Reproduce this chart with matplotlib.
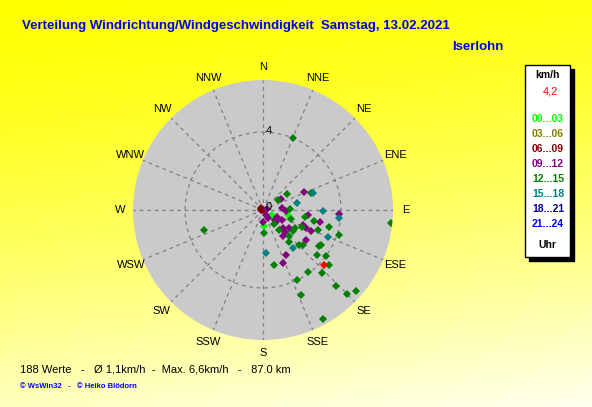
import numpy as np
import matplotlib.pyplot as plt
from matplotlib.patches import Rectangle

plt.rcParams['font.family'] = ['Liberation Sans', 'DejaVu Sans']

richtungen = ["N", "NNE", "NE", "ENE", "E", "ESE", "SE", "SSE",
              "S", "SSW", "SW", "WSW", "W", "WNW", "NW", "NNW"]

# Windrichtung (Grad) und Geschwindigkeit (km/h) je Zeitraum
dir_00_03 = [118, 128, 102, 175]
spd_00_03 = [0.5, 0.6, 1.3, 0.8]

dir_06_09 = [290, 270, 315, 0]
spd_06_09 = [0.1, 0.12, 0.15, 0.0]

dir_09_12 = [67, 58, 85, 92, 96, 93, 102, 117, 117, 147, 132, 132, 152, 181,
             125, 132, 135, 111, 113, 114, 125, 153, 159, 143, 75]
spd_09_12 = [2.3, 1.1, 1.0, 1.2, 2.3, 3.9, 3.0, 0.8, 1.1, 0.5, 0.8, 0.9, 0.3, 0.6,
             1.6, 1.4, 1.6, 2.2, 2.4, 2.7, 2.7, 2.6, 2.9, 1.7, 0.2]

dir_12_15 = [23, 56, 56, 88, 107, 99, 102, 104, 108, 110, 141, 177, 141, 125,
             119, 113, 141, 131, 134, 123, 121, 130, 126, 130, 137, 144, 169,
             154, 136, 135, 131, 156, 151, 96, 251, 70, 135]
spd_12_15 = [4.0, 1.5, 0.9, 1.4, 1.5, 2.2, 2.7, 3.5, 4.1, 3.0, 1.3, 1.2, 0.9, 1.9,
             1.9, 2.2, 2.1, 2.7, 2.6, 3.4, 3.5, 3.6, 4.0, 4.4, 4.4, 3.9, 2.9,
             4.0, 5.4, 6.1, 6.3, 4.8, 6.4, 6.6, 3.2, 2.6, 1.9]

dir_15_18 = [71, 79, 91, 96, 113, 142, 176]
spd_15_18 = [2.7, 1.8, 3.1, 3.9, 3.6, 2.5, 2.2]

aktuell_dir = 132
aktuell_spd = 4.2

zeitraeume = ["00...03", "03...06", "06...09", "09...12",
              "12...15", "15...18", "18...21", "21...24"]
farben = ["#00FF00", "#808000", "#800000", "#800080",
          "#008000", "#008080", "#000080", "#0000FF"]

rmax = 6.67

fig = plt.figure(figsize=(5.92, 4.07), dpi=100)

# Hintergrund: gelber Verlauf
bg = fig.add_axes([0, 0, 1, 1])
bg.axis('off')
yy, xx = np.mgrid[0:1:407j, 0:1:592j]
blau = np.clip(0.85 * yy + 0.15 * xx, 0, 1) ** 1.4 * 0.94
bg.imshow(np.dstack([np.ones_like(yy), np.ones_like(yy), blau]),
          aspect='auto', extent=[0, 1, 0, 1], origin='upper')
bg.set_xlim(0, 1)
bg.set_ylim(0, 1)

ax = fig.add_axes([0.2247, 0.1646, 0.4392, 0.6388], projection='polar')
ax.set_theta_zero_location('N')
ax.set_theta_direction(-1)
ax.set_facecolor('#CACACA')
ax.set_ylim(0, rmax)
ax.grid(False)
ax.set_xticks([])
ax.set_yticks([])
ax.spines['polar'].set_visible(False)

for i in range(16):
    th = np.deg2rad(i * 22.5)
    ax.plot([th, th], [0, rmax], ls=(0, (3, 3)), color='#808080', lw=0.9)
    ax.text(th, rmax * 1.1, richtungen[i], ha='center', va='center',
            fontsize=8, clip_on=False)
kreis = np.linspace(0, 2 * np.pi, 200)
ax.plot(kreis, np.full_like(kreis, 4), ls=(0, (3, 3)), color='#808080', lw=0.9)
ax.text(np.deg2rad(4), 4.05, "4", ha='center', va='center', fontsize=8)
ax.text(np.deg2rad(60), 0.35, "0", ha='center', va='center', fontsize=8)

gruppen = [(dir_00_03, spd_00_03, farben[0]),
           (dir_06_09, spd_06_09, farben[2]),
           (dir_09_12, spd_09_12, farben[3]),
           (dir_12_15, spd_12_15, farben[4]),
           (dir_15_18, spd_15_18, farben[5])]
for d, s, c in gruppen:
    ax.plot(np.deg2rad(d), s, 'D', color=c, ms=3.8, mew=0, ls='none')
ax.plot(np.deg2rad(aktuell_dir), aktuell_spd, 'D', color='#FF0000', ms=3.8, mew=0)

# Titel
fig.text(22 / 592, 1 - 26 / 407,
         "Verteilung Windrichtung/Windgeschwindigkeit  Samstag, 13.02.2021",
         color='#0000EE', fontsize=9.5, fontweight='bold', va='center')
fig.text(452 / 592, 1 - 47 / 407, "Iserlohn", color='#0000EE',
         fontsize=9.5, fontweight='bold', va='center')

# Legende
W, H = 592, 407
fig.patches.append(Rectangle((529 / W, 1 - 261 / H), 45 / W, 192 / H,
                             transform=fig.transFigure, color='black', zorder=2))
fig.patches.append(Rectangle((525 / W, 1 - 257 / H), 45 / W, 192 / H,
                             transform=fig.transFigure, facecolor='white',
                             edgecolor='black', lw=1, zorder=3))
fig.text(547 / W, 1 - 75 / H, "km/h", fontsize=7.5, fontweight='bold',
         ha='center', va='center', zorder=4)
fig.text(550 / W, 1 - 92 / H, "4,2", fontsize=8, color='#FF0000',
         ha='center', va='center', zorder=4)
for i, (z, c) in enumerate(zip(zeitraeume, farben)):
    fig.text(548 / W, 1 - (119 + 15 * i) / H, z, fontsize=7.5,
             fontweight='bold', color=c, ha='center', va='center', zorder=4)
fig.text(547 / W, 1 - 245 / H, "Uhr", fontsize=7.5, fontweight='bold',
         ha='center', va='center', zorder=4)

# Fusszeile
fig.text(20 / W, 1 - 369 / H,
         "188 Werte   -   \u00d8 1,1km/h  -  Max. 6,6km/h   -   87.0 km",
         fontsize=8, va='center')
fig.text(20 / W, 1 - 386 / H, "\u00a9 WsWin32   -   \u00a9 Heiko Blödorn",
         fontsize=5.5, fontweight='bold', color='#0000FF', va='center')

fig.savefig('out.png', dpi=100)
